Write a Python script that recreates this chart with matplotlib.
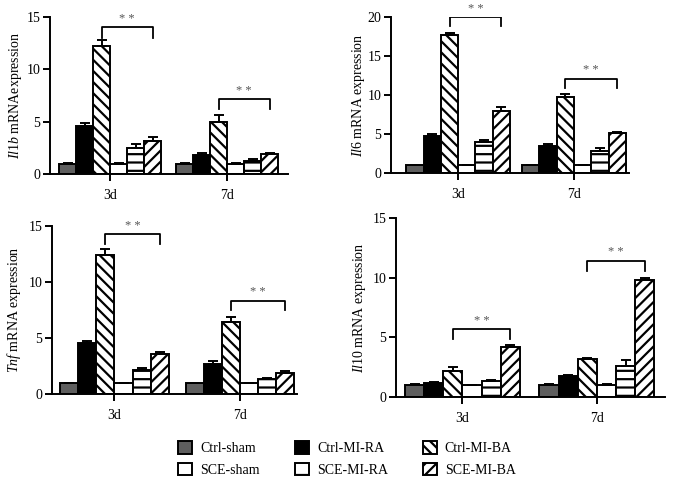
import matplotlib
matplotlib.use("Agg")
import matplotlib.pyplot as plt
import numpy as np
from matplotlib.patches import Patch

plt.rcParams['font.family'] = ['Liberation Serif', 'DejaVu Serif']
plt.rcParams['mathtext.fontset'] = 'custom'
plt.rcParams['mathtext.rm'] = 'Liberation Serif'
plt.rcParams['mathtext.it'] = 'Liberation Serif:italic'
plt.rcParams['hatch.linewidth'] = 1.6
plt.rcParams['hatch.color'] = 'black'

groups = ['3d', '7d']
series = ['Ctrl-sham', 'Ctrl-MI-RA', 'Ctrl-MI-BA', 'SCE-sham', 'SCE-MI-RA', 'SCE-MI-BA']

# values[gene] = [[3d series...], [7d series...]]
il1b_mean = [[1.0, 4.55, 12.2, 1.0, 2.47, 3.2], [1.0, 1.83, 5.0, 1.0, 1.28, 1.93]]
il1b_err = [[0.03, 0.3, 0.62, 0.03, 0.4, 0.32], [0.03, 0.22, 0.65, 0.03, 0.12, 0.06]]
il6_mean = [[1.0, 4.8, 17.65, 1.0, 3.98, 8.0], [1.0, 3.5, 9.8, 1.0, 2.83, 5.1]]
il6_err = [[0.06, 0.2, 0.35, 0.06, 0.22, 0.42], [0.06, 0.26, 0.38, 0.06, 0.33, 0.17]]
tnf_mean = [[1.0, 4.58, 12.4, 1.0, 2.15, 3.55], [1.0, 2.65, 6.46, 1.0, 1.35, 1.86]]
tnf_err = [[0.02, 0.18, 0.57, 0.02, 0.15, 0.18], [0.02, 0.3, 0.44, 0.02, 0.12, 0.17]]
il10_mean = [[1.0, 1.18, 2.2, 1.0, 1.35, 4.2], [1.0, 1.73, 3.17, 1.0, 2.58, 9.84]]
il10_err = [[0.05, 0.08, 0.28, 0.04, 0.07, 0.13], [0.05, 0.09, 0.14, 0.05, 0.5, 0.1]]

# significance brackets (Ctrl-MI-BA vs SCE-MI-BA): top, leg bottom
il1b_br = [[14.05, 13.0], [7.15, 6.2]]
il6_br = [[20.0, 18.9], [12.1, 10.9]]
tnf_br = [[14.25, 13.4], [8.33, 7.5]]
il10_br = [[5.67, 4.9], [11.4, 10.55]]

gene_labels = ['Il1b', 'Il6', 'Tnf', 'Il10']
label_suffix = [' mRNAexpression', ' mRNA expression', ' mRNA expression', ' mRNA expression']
ylims = [15, 20, 15, 15]
yticks = [[0, 5, 10, 15], [0, 5, 10, 15, 20], [0, 5, 10, 15], [0, 5, 10, 15]]

fills = ['#5e5e5e', 'black', 'white', 'white', 'white', 'white']
hatches = [None, None, '\\\\\\', None, '--', '///']

W, H = 674, 488
fig = plt.figure(figsize=(W / 100, H / 100), dpi=100)

# axes rectangles in pixels: left, right, y of 0, y of top
rects = [(50, 288, 174, 17), (391, 629, 173, 17), (52, 297, 394, 226), (396, 665, 397, 218)]
xlims = [(-0.513, 1.518), (-0.58, 1.475), (-0.497, 1.452), (-0.494, 1.506)]
gw = [0.87, 0.895, 0.862, 0.855]
ylabel_x = [24, 367, 23, 368]

means = [il1b_mean, il6_mean, tnf_mean, il10_mean]
errs = [il1b_err, il6_err, tnf_err, il10_err]
brs = [il1b_br, il6_br, tnf_br, il10_br]

for k in range(4):
    l, r, y0, yt = rects[k]
    ax = fig.add_axes([l / W, 1 - y0 / H, (r - l) / W, (y0 - yt) / H])
    w = gw[k] / 6
    xg = np.arange(len(groups))
    m = np.array(means[k])
    e = np.array(errs[k])
    for s in range(6):
        xs = xg - gw[k] / 2 + w * (s + 0.5)
        ax.bar(xs, m[:, s], width=w, color=fills[s], edgecolor='black',
               linewidth=1.4, hatch=hatches[s], zorder=2)
        ax.errorbar(xs, m[:, s], yerr=[np.zeros(2), e[:, s]], fmt='none',
                    ecolor='black', elinewidth=1.4, capsize=3.5, capthick=1.4, zorder=3)
    for g in range(2):
        x1 = g - gw[k] / 2 + w * 2.5
        x2 = g - gw[k] / 2 + w * 5.5
        top, leg = brs[k][g]
        ax.plot([x1, x1, x2, x2], [leg, top, top, leg], color='black', lw=1.3)
        ax.text((x1 + x2) / 2, top + ylims[k] * 0.015, '* *', ha='center', va='bottom',
                fontsize=9, color='#555555')
    ax.set_xlim(*xlims[k])
    ax.set_ylim(0, ylims[k])
    ax.set_yticks(yticks[k])
    ax.set_xticks(xg)
    ax.set_xticklabels(groups)
    ax.spines['top'].set_visible(False)
    ax.spines['right'].set_visible(False)
    for sp in ['left', 'bottom']:
        ax.spines[sp].set_linewidth(1.4)
    ax.tick_params(axis='both', direction='out', length=5, width=1.4, labelsize=10)
    ax.tick_params(axis='y', pad=2)
    ax.tick_params(axis='x', pad=6)
    ax.set_ylabel('$\\mathit{' + gene_labels[k] + '}$' + label_suffix[k], fontsize=10)
    ax.yaxis.set_label_coords((ylabel_x[k] - l) / (r - l), 0.5)

legend_hatches = [None, None, '\\\\\\', None, '-', '///']
handles = []
order = [0, 3, 1, 4, 2, 5]
for s in order:
    handles.append(Patch(facecolor=fills[s], edgecolor='black', linewidth=1.4,
                         hatch=legend_hatches[s], label=series[s]))
fig.legend(handles=handles, ncol=3, loc='center', bbox_to_anchor=(347 / W, 1 - 459 / H),
           frameon=False, fontsize=10, handlelength=1.0, handleheight=1.0,
           columnspacing=2.5, handletextpad=0.6, labelspacing=0.55)

fig.savefig('out.png', dpi=100)
